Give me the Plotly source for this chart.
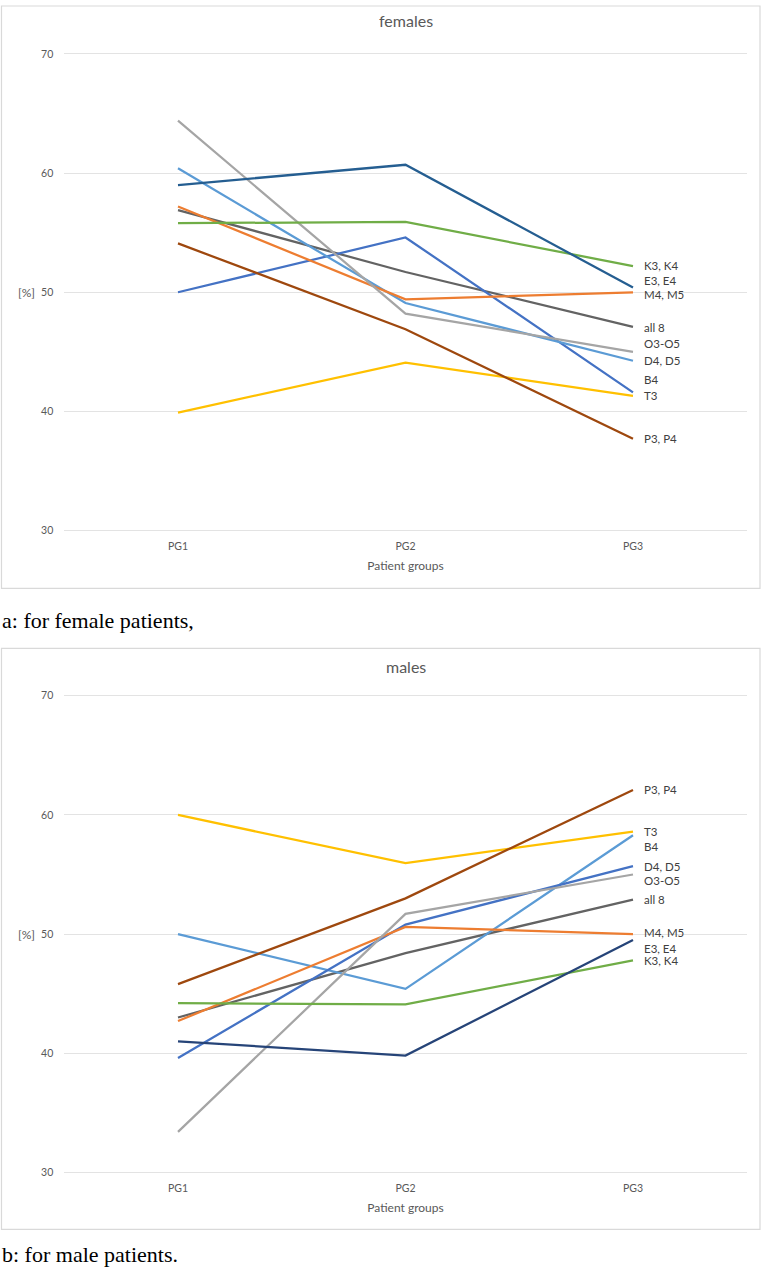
import plotly.graph_objects as go

groups = ["PG1", "PG2", "PG3"]
series_names = ["all 8", "T3", "B4", "D4, D5", "P3, P4", "M4, M5", "O3-O5", "K3, K4", "E3, E4"]

female_vals = {
    "all 8":  [56.9, 51.7, 47.1],
    "T3":     [39.9, 44.1, 41.3],
    "B4":     [50.0, 54.6, 41.6],
    "D4, D5": [60.4, 49.1, 44.25],
    "P3, P4": [54.1, 46.9, 37.7],
    "M4, M5": [57.2, 49.4, 50.0],
    "O3-O5":  [64.4, 48.2, 45.0],
    "K3, K4": [55.8, 55.9, 52.2],
    "E3, E4": [59.0, 60.7, 50.4],
}
male_vals = {
    "all 8":  [43.0, 48.4, 52.9],
    "T3":     [60.0, 55.95, 58.6],
    "B4":     [50.0, 45.4, 58.3],
    "D4, D5": [39.6, 50.8, 55.7],
    "P3, P4": [45.8, 53.0, 62.1],
    "M4, M5": [42.7, 50.6, 50.0],
    "O3-O5":  [33.4, 51.7, 55.0],
    "K3, K4": [44.2, 44.1, 47.8],
    "E3, E4": [41.0, 39.8, 49.5],
}

female_colors = {
    "all 8": "#636363", "T3": "#FFC000", "B4": "#4472C4", "D4, D5": "#5B9BD5",
    "P3, P4": "#9E480E", "M4, M5": "#ED7D31", "O3-O5": "#A5A5A5", "K3, K4": "#70AD47",
    "E3, E4": "#255E91",
}
male_colors = {
    "all 8": "#636363", "T3": "#FFC000", "B4": "#5B9BD5", "D4, D5": "#4472C4",
    "P3, P4": "#9E480E", "M4, M5": "#ED7D31", "O3-O5": "#A5A5A5", "K3, K4": "#70AD47",
    "E3, E4": "#264478",
}
# vertical pixel shifts of end labels to avoid overlap (layout only)
female_label_shift = {"K3, K4": 1, "E3, E4": 6.5, "O3-O5": 8, "B4": 13, "M4, M5": -2, "all 8": -1}
male_label_shift = {"B4": -11, "O3-O5": -6, "E3, E4": -8, "M4, M5": 1.5}

W, H = 762, 1274
FONT = "Lato, 'Open Sans', sans-serif"
TXT = "#595959"

fig = go.Figure()

def add_panel(vals, colors, shifts, xa, ya):
    for name in series_names:
        fig.add_trace(go.Scatter(
            x=groups, y=vals[name], mode="lines", name=name,
            line=dict(color=colors[name], width=2.25),
            xaxis=xa, yaxis=ya, showlegend=False, hoverinfo="x+y+name",
        ))
        fig.add_annotation(
            x=groups[-1], y=vals[name][-1], xref=xa, yref=ya,
            text=name, showarrow=False, xanchor="left", yanchor="middle",
            xshift=9, yshift=shifts.get(name, 0),
            font=dict(family=FONT, size=11.5, color="#404040"),
        )

add_panel(female_vals, female_colors, female_label_shift, "x", "y")
add_panel(male_vals, male_colors, male_label_shift, "x2", "y2")

xdom = [64.25 / W, 746.75 / W]
PAD = 0.1  # small range padding so edge gridlines get drawn
PXU = 12.0
def ydom(top_px, bot_px):
    return [1 - (bot_px + PAD * PXU) / H, 1 - (top_px - PAD * PXU) / H]

axis_common_x = dict(
    range=[-0.5, 2.5], showgrid=False, zeroline=False, showline=False,
    tickfont=dict(family=FONT, size=10.5, color=TXT), ticks="",
    ticklabelstandoff=7, fixedrange=True,
)
axis_common_y = dict(
    range=[30 - PAD, 70 + PAD], tickvals=[30, 40, 50, 60, 70], showgrid=True,
    gridcolor="#E3E3E3", gridwidth=1, zeroline=False, showline=False,
    tickfont=dict(family=FONT, size=10.5, color=TXT), ticks="",
    ticklabelstandoff=10, fixedrange=True,
)
xtitle = dict(text="Patient groups", font=dict(family=FONT, size=12, color=TXT), standoff=10)

fig.update_layout(
    width=W, height=H, margin=dict(l=0, r=0, t=0, b=0),
    paper_bgcolor="white", plot_bgcolor="white", showlegend=False,
    xaxis=dict(domain=xdom, anchor="y", title=xtitle, **axis_common_x),
    yaxis=dict(domain=ydom(49.3, 529.3), anchor="x", **axis_common_y),
    xaxis2=dict(domain=xdom, anchor="y2", title=xtitle, **axis_common_x),
    yaxis2=dict(domain=ydom(695.7, 1175.7), anchor="x2", **axis_common_y),
)

# panel borders
for top, bot in [(1, 587.5), (648, 1233)]:
    fig.add_shape(type="rect", xref="paper", yref="paper",
                  x0=1.5 / W, x1=760 / W, y0=1 - bot / H, y1=1 - top / H,
                  line=dict(color="#D9D9D9", width=1.2), fillcolor="rgba(0,0,0,0)", layer="below")

# titles
for txt, ypx in [("females", 16), ("males", 666)]:
    fig.add_annotation(x=0.5 * (64.25 + 746.75) / W, y=1 - ypx / H, xref="paper", yref="paper",
                       text=txt, showarrow=False, xanchor="center", yanchor="middle",
                       font=dict(family=FONT, size=16, color=TXT))

# [%] labels
for ypx in [289.3, 935.7]:
    fig.add_annotation(x=16 / W, y=1 - ypx / H, xref="paper", yref="paper",
                       text="[%]", showarrow=False, xanchor="left", yanchor="middle",
                       font=dict(family=FONT, size=12, color=TXT))

# captions
for txt, ypx in [("a: for female patients,", 620), ("b: for male patients.", 1258)]:
    fig.add_annotation(x=0, y=1 - ypx / H, xref="paper", yref="paper",
                       text=txt, showarrow=False, xanchor="left", yanchor="middle",
                       font=dict(family="'Liberation Serif', 'Times New Roman', serif", size=22, color="black"))

fig.write_html("out.html")
